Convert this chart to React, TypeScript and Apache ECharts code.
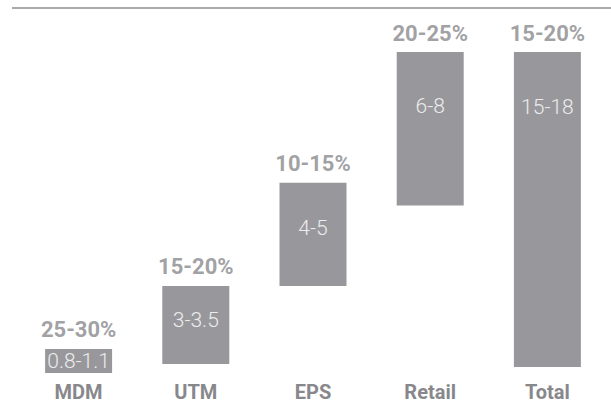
import React, { useEffect, useRef } from "react";
import * as echarts from "echarts";

const categories = ["MDM", "UTM", "EPS", "Retail", "Total"];
const rangeLabels = ["0.8-1.1", "3-3.5", "4-5", "6-8", "15-18"];
const shareLabels = ["25-30%", "15-20%", "10-15%", "20-25%", "15-20%"];
const barBottoms = [0, 0.5, 4.88, 9.39, 0.34];
const barTops = [1.35, 4.88, 10.67, 18, 18];

export default function App() {
  const ref = useRef<HTMLDivElement>(null);
  useEffect(() => {
    if (!ref.current) return;
    const chart = echarts.init(ref.current, null, { renderer: "svg" });
    const innerDrop = [12.5, 34, 45.5, 54, 54.5];
    const barColor = "#98989c";
    const textColor = "#88888c";
    chart.setOption({
      animation: false,
      grid: { left: 20, right: 5, top: 52, bottom: 39 },
      xAxis: {
        type: "category",
        data: categories,
        axisLine: { show: false },
        axisTick: { show: false },
        axisLabel: {
          color: textColor,
          fontFamily: "Roboto",
          fontWeight: "bold",
          fontSize: 20,
          margin: 9,
        },
      },
      yAxis: {
        type: "value",
        min: 0,
        max: 18,
        show: false,
        splitLine: { show: false },
      },
      graphic: [
        {
          type: "line",
          shape: { x1: 12, y1: 8, x2: 611, y2: 8 },
          style: { stroke: "#aaaaaa", lineWidth: 2 },
        },
      ],
      series: [
        {
          type: "bar",
          stack: "w",
          barWidth: 67,
          itemStyle: { color: "transparent" },
          emphasis: { disabled: true },
          data: barBottoms,
        },
        {
          type: "bar",
          stack: "w",
          barWidth: 67,
          itemStyle: { color: barColor },
          emphasis: { disabled: true },
          data: barTops.map((t, i) => ({
            value: +(t - barBottoms[i]).toFixed(3),
            label: {
              show: true,
              position: ["50%", innerDrop[i]],
              align: "center",
              verticalAlign: "middle",
              formatter: rangeLabels[i],
              color: "#ececec",
              fontFamily: "Roboto",
              fontWeight: 300,
              fontSize: 21,
            },
          })),
        },
        {
          type: "scatter",
          symbolSize: 0,
          silent: true,
          data: barTops.map((t, i) => ({
            value: [i, t],
            label: {
              show: true,
              position: "top",
              distance: 8,
              formatter: shareLabels[i],
              color: textColor,
              fontFamily: "Roboto",
              fontWeight: "bold",
              fontSize: 22,
            },
          })),
        },
      ],
    });
    return () => chart.dispose();
  }, []);
  return <div ref={ref} style={{ width: 611, height: 412, position: "absolute", left: 0, top: 0 }} />;
}
